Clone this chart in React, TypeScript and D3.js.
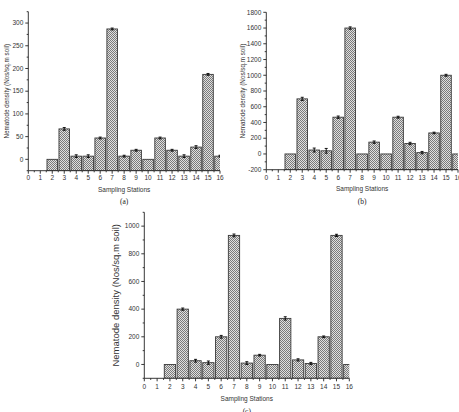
import React from "react";
import * as d3 from "d3";

const stations = [2, 3, 4, 5, 6, 7, 8, 9, 10, 11, 12, 13, 14, 15, 16];
const valuesA = [0, 67, 7, 7, 47, 287, 7, 20, 0, 47, 20, 7, 27, 187, 7];
const errorsA = [0, 3, 3, 3, 2, 2, 2, 2, 0, 2, 2, 3, 3, 2, 2];
const valuesB = [0, 700, 50, 40, 467, 1600, 0, 150, 0, 467, 133, 17, 267, 1000, 0];
const errorsB = [0, 20, 25, 30, 15, 15, 0, 15, 0, 12, 15, 15, 10, 12, 0];
const valuesC = [0, 400, 27, 13, 200, 933, 10, 67, 0, 333, 33, 7, 200, 933, 0];
const errorsC = [0, 8, 10, 12, 10, 10, 10, 6, 0, 12, 8, 8, 6, 8, 0];
const xTicks = d3.range(0, 17);
const yTicksA = [0, 50, 100, 150, 200, 250, 300];
const yTicksB = [-200, 0, 200, 400, 600, 800, 1000, 1200, 1400, 1600, 1800];
const yTicksC = [0, 200, 400, 600, 800, 1000];
const yLabel = "Nematode density (Nos/sq.m soil)";
const xLabel = "Sampling Stations";

type PanelProps = {
  id: string;
  x0: number; x1: number; yTop: number; yBot: number;
  yDomain: [number, number];
  yTicks: number[]; yMinorStep: number;
  values: number[]; errors: number[];
  caption: string; captionY: number;
  xLabelY: number; tickLabelY: number;
  yLabelX: number; yLabelSize: number;
};

function Panel(p: PanelProps) {
  const x = d3.scaleLinear().domain([0, 16]).range([p.x0, p.x1]);
  const y = d3.scaleLinear().domain(p.yDomain).range([p.yBot, p.yTop]);
  const bw = (x(1) - x(0)) * 0.88;
  const minor = d3.range(p.yDomain[0], p.yDomain[1] + 1e-6, p.yMinorStep).filter(v => !p.yTicks.includes(v));
  const xMinor = d3.range(0.5, 16, 1);
  const cx = (p.x0 + p.x1) / 2;
  const yMid = (p.yTop + p.yBot) / 2;
  return (
    <g>
      <clipPath id={"clip" + p.id}>
        <rect x={p.x0} y={p.yTop - 5} width={p.x1 - p.x0} height={p.yBot - p.yTop + 5} />
      </clipPath>
      <g clipPath={`url(#clip${p.id})`}>
        {stations.map((s, i) => (
          <g key={s}>
            <rect x={x(s) - bw / 2} y={y(p.values[i])} width={bw} height={y(p.yDomain[0]) - y(p.values[i])}
              fill="url(#hatch)" stroke="#3a3a3a" strokeWidth={0.9} />
            {p.errors[i] > 0 && (
              <g stroke="#000" strokeWidth={0.9}>
                <line x1={x(s)} x2={x(s)} y1={y(p.values[i] + p.errors[i])} y2={y(p.values[i] - p.errors[i])} />
                <line x1={x(s) - 1.5} x2={x(s) + 1.5} y1={y(p.values[i] + p.errors[i])} y2={y(p.values[i] + p.errors[i])} />
                <line x1={x(s) - 1.5} x2={x(s) + 1.5} y1={y(p.values[i] - p.errors[i])} y2={y(p.values[i] - p.errors[i])} />
              </g>
            )}
          </g>
        ))}
      </g>
      <g stroke="#222" strokeWidth={0.9}>
        <line x1={p.x0} x2={p.x0} y1={p.yTop} y2={p.yBot} />
        <line x1={p.x0} x2={p.x1} y1={p.yBot} y2={p.yBot} />
        {p.yTicks.map(t => <line key={t} x1={p.x0 - 3} x2={p.x0} y1={y(t)} y2={y(t)} />)}
        {minor.map(t => <line key={t} x1={p.x0 - 1.6} x2={p.x0} y1={y(t)} y2={y(t)} />)}
        {xTicks.map(t => <line key={t} x1={x(t)} x2={x(t)} y1={p.yBot} y2={p.yBot + 3} />)}
        {xMinor.map(t => <line key={t} x1={x(t)} x2={x(t)} y1={p.yBot} y2={p.yBot + 1.6} />)}
      </g>
      <g fontFamily="Liberation Sans, Arial, sans-serif" fontSize={6.5} fill="#333">
        {p.yTicks.map(t => (
          <text key={t} x={p.x0 - 5} y={y(t)} dy="0.35em" textAnchor="end">{t}</text>
        ))}
        {xTicks.map(t => (
          <text key={t} x={x(t)} y={p.tickLabelY} textAnchor="middle">{t}</text>
        ))}
        <text x={cx} y={p.xLabelY} textAnchor="middle">{xLabel}</text>
        <text transform={`translate(${p.yLabelX},${yMid}) rotate(-90)`} textAnchor="middle" fontSize={p.yLabelSize}>{yLabel}</text>
      </g>
      <text x={cx} y={p.captionY} textAnchor="middle" fontFamily="Liberation Serif, serif" fontSize={7.5} fill="#222">{p.caption}</text>
    </g>
  );
}

export default function App() {
  return (
    <svg width={459} height={412} style={{ position: "absolute", left: 0, top: 0, background: "#fff" }}>
      <defs>
        <pattern id="hatch" width={2} height={2} patternUnits="userSpaceOnUse">
          <rect width={2} height={2} fill="#e0e0e0" />
          <rect x={0} y={0} width={1} height={1} fill="#7a7a7a" />
          <rect x={1} y={1} width={1} height={1} fill="#7a7a7a" />
        </pattern>
      </defs>
      <Panel id="a" x0={28.3} x1={220} yTop={11.7} yBot={170.7} yDomain={[-25, 325]}
        yTicks={yTicksA} yMinorStep={25} values={valuesA} errors={errorsA}
        caption="(a)" captionY={204} xLabelY={191.5} tickLabelY={180} yLabelX={8.5} yLabelSize={6.3} />
      <Panel id="b" x0={266.3} x1={458} yTop={12.3} yBot={169.7} yDomain={[-200, 1800]}
        yTicks={yTicksB} yMinorStep={100} values={valuesB} errors={errorsB}
        caption="(b)" captionY={203.5} xLabelY={190.5} tickLabelY={179.7} yLabelX={244.5} yLabelSize={6.3} />
      <Panel id="c" x0={144.3} x1={349.3} yTop={212.3} yBot={378.3} yDomain={[-100, 1100]}
        yTicks={yTicksC} yMinorStep={100} values={valuesC} errors={errorsC}
        caption="(c)" captionY={414} xLabelY={400.5} tickLabelY={388.5} yLabelX={118.5} yLabelSize={9.5} />
    </svg>
  );
}
